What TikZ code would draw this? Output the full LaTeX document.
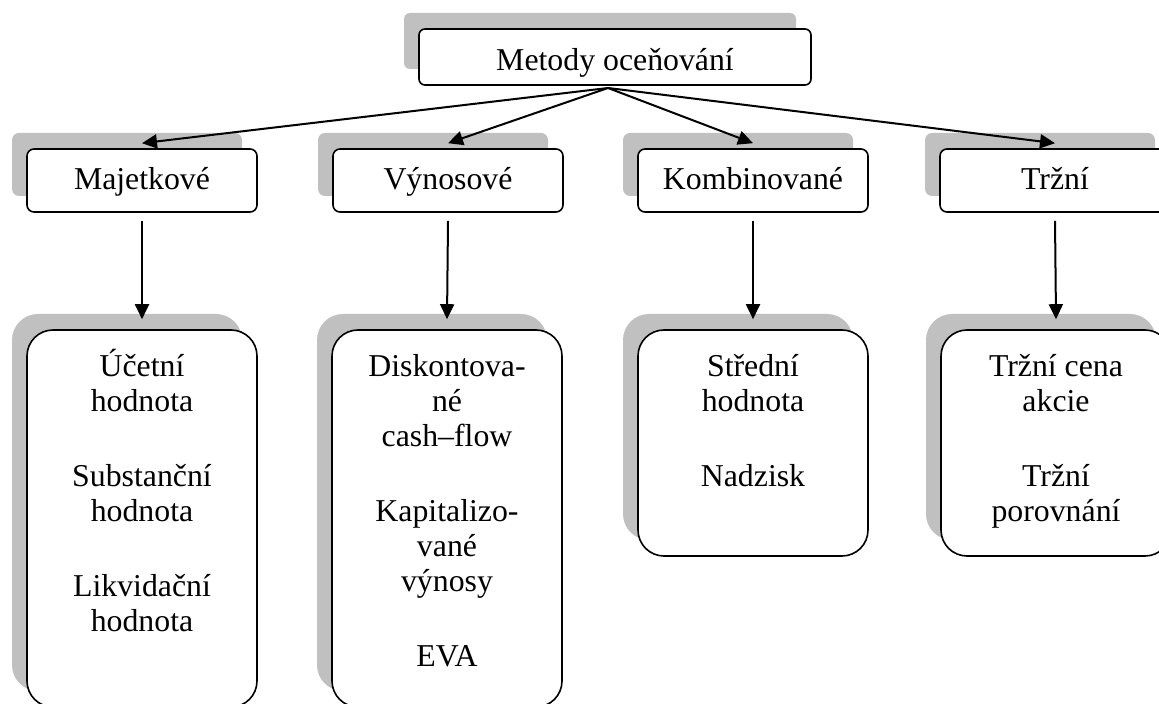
\documentclass[tikz,border=0pt]{standalone}
\usepackage{fontspec}
\setmainfont{Liberation Serif}
\usetikzlibrary{arrows.meta,shadows}
\definecolor{shadowgray}{RGB}{192,192,192}
\newcommand{\listlines}[1]{\begin{tabular}[t]{@{}c@{}}#1\end{tabular}}
\begin{document}
\begin{tikzpicture}[x=0.5pt,y=-0.5pt,
  every node/.style={font=\fontsize{15.9pt}{17.5pt}\selectfont},
  shad/.style={drop shadow={shadow xshift=-7.5pt,shadow yshift=8pt,fill=shadowgray,opacity=1,draw=none}},
  headbox/.style={draw,line width=0.8pt,fill=white,rounded corners=3pt,minimum width=196pt,minimum height=28pt,inner sep=0pt,text height=16pt,text depth=2pt,shad},
  catbox/.style={draw,line width=0.8pt,fill=white,rounded corners=3.5pt,minimum width=115pt,minimum height=31.5pt,inner sep=0pt,text height=12.5pt,text depth=3pt,shad},
  listbox/.style={draw,line width=0.8pt,fill=white,rounded corners=13pt,minimum width=115pt,inner sep=0pt,shad},
  listtext/.style={anchor=base,inner sep=0pt},
  arr/.style={line width=1pt,-{Triangle[length=7.5pt,width=7pt]}}]
\useasboundingbox (0,0) rectangle (1159,704);
\clip (0,0) rectangle (1159,704);

\node[headbox] (top) at (615,57) {Metody oceňování};
\coordinate (hub) at (608,88);

\node[catbox] (c1) at (142,180.5) {Majetkové};
\node[catbox] (c2) at (448,180.5) {Výnosové};
\node[catbox] (c3) at (753,180.5) {Kombinované};
\node[catbox] (c4) at (1055,180.5) {Tržní};

\node[listbox,minimum height=188.5pt] (l1) at (142,518.5) {};
\node[listbox,minimum height=188.5pt] (l2) at (447,518.5) {};
\node[listbox,minimum height=113pt] (l3) at (753,443) {};
\node[listbox,minimum height=113pt] (l4) at (1056,443) {};

\node[listtext] (t1) at ([yshift=-23.5pt]l1.north) {\listlines{Účetní\\hodnota\\[20pt]Substanční\\hodnota\\[20pt]Likvidační\\hodnota}};
\node[listtext] (t2) at ([yshift=-23.5pt]l2.north) {\listlines{Diskontova-\\né\\cash–flow\\[20pt]Kapitalizo-\\vané\\výnosy\\[20pt]EVA}};
\node[listtext] (t3) at ([yshift=-23.5pt]l3.north) {\listlines{Střední\\hodnota\\[20pt]Nadzisk}};
\node[listtext] (t4) at ([yshift=-23.5pt]l4.north) {\listlines{Tržní cena\\akcie\\[20pt]Tržní\\porovnání}};

\foreach \c in {c1,c2,c3,c4}{
  \draw[arr] (hub) -- ([yshift=2.5pt]\c.north);
}
\foreach \c/\l in {c1/l1,c2/l2,c3/l3,c4/l4}{
  \draw[arr] ([yshift=-4pt]\c.south) -- ([yshift=5pt]\l.north);
}
\end{tikzpicture}
\end{document}
